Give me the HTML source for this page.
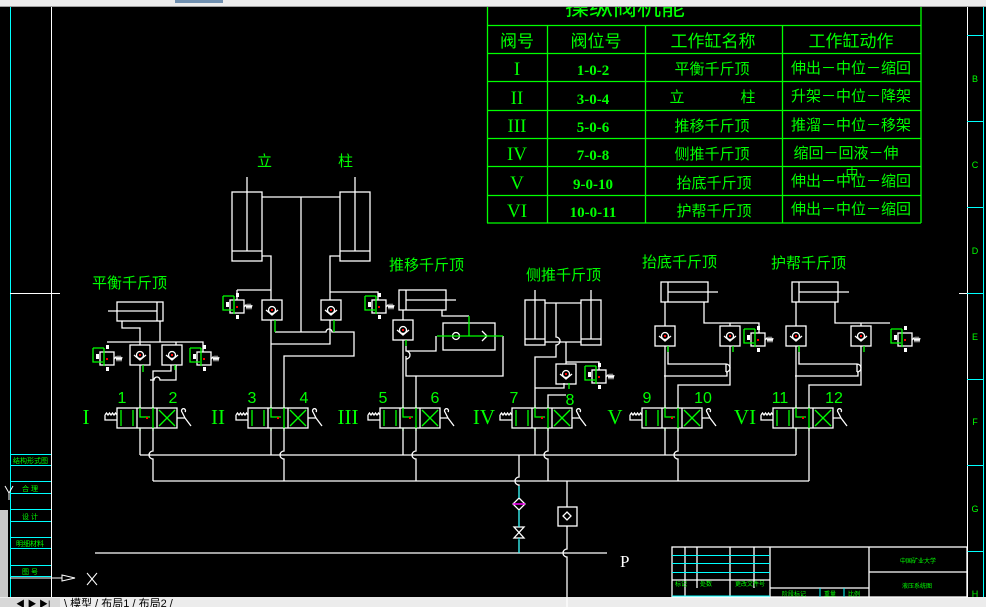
<!DOCTYPE html>
<html><head><meta charset="utf-8"><style>
html,body{margin:0;padding:0;background:#000;width:986px;height:607px;overflow:hidden}
svg{display:block}
text{font-family:"Liberation Sans","Noto Sans CJK SC",sans-serif}
.cj, .cj text{font-family:"Liberation Sans","WenQuanYi Zen Hei","Noto Sans CJK SC",sans-serif}
.se, .se text{font-family:"Liberation Serif","Noto Serif CJK SC",serif}
</style></head><body>
<svg width="986" height="607" viewBox="0 0 986 607" xmlns="http://www.w3.org/2000/svg">
<defs>
 <g id="dv" fill="none" stroke-width="1.3">
  <rect x="0" y="0" width="60" height="20" stroke="#fff"/>
  <line x1="20" y1="0" x2="20" y2="20" stroke="#fff"/>
  <line x1="40" y1="0" x2="40" y2="20" stroke="#fff"/>
  <g stroke="#0f0">
   <line x1="4" y1="2" x2="4" y2="18"/><line x1="16" y1="2" x2="16" y2="18"/>
   <path d="M23,-3 V9 H33"/><line x1="36" y1="-3" x2="36" y2="23"/><line x1="23" y1="20" x2="23" y2="23"/>
   <path d="M42,2 L58,18 M58,2 L42,18"/>
  </g>
  <rect x="29" y="9" width="2" height="2" fill="#f00" stroke="none"/>
  <path d="M-12,7 V12 H0 M-12,7 l1.5,-2 1.5,2 1.5,-2 1.5,2 1.5,-2 1.5,2 1.5,-2 1.5,2" stroke="#fff"/>
  <path d="M60,10 H68 L74,18 M68,10 L65,4 M65,4 a2,2 0 1 1 3,0" stroke="#fff"/>
 </g>
 <g id="cv" fill="none" stroke="#fff" stroke-width="1.3">
  <rect x="0" y="0" width="20" height="20"/>
  <circle cx="10" cy="10" r="3.5"/>
  <path d="M4,10 L10,15 L16,10"/>
  <rect x="9" y="9" width="2" height="2" fill="#f00" stroke="none"/>
 </g>
 <g id="rv" fill="none" stroke-width="1.3">
  <rect x="0" y="0" width="14" height="13" stroke="#fff"/>
  <path d="M-7,-4 H4 M-7,-4 V10 H3 M4,-4 V14" stroke="#0f0"/>
  <rect x="-4" y="2" width="3" height="5" fill="#fff" stroke="none"/>
  <rect x="6" y="-7" width="3" height="4" fill="#fff" stroke="none"/>
  <rect x="6" y="15" width="3" height="4" fill="#fff" stroke="none"/>
  <path d="M14,7 l2,-2 1,3 1,-3 1,3 1,-3 1,3 1,-3" stroke="#fff"/>
  <rect x="6" y="6" width="2" height="2" fill="#f00" stroke="none"/>
 </g>
</defs>

<rect x="0" y="0" width="986" height="6" fill="#ececec"/>
<line x1="0" y1="6.5" x2="986" y2="6.5" stroke="#a0a0a0"/>
<rect x="175" y="0" width="48" height="3" fill="#7090b0"/>
<rect x="0" y="597" width="986" height="10" fill="#ececec"/>
<rect x="0" y="598" width="60" height="9" fill="#d8d8d8"/>
<text x="16" y="607" font-size="9" fill="#000">◀ ▶ ▶|</text>
<text x="64" y="607" font-size="11" class="cj" fill="#000">\ 模型 / 布局1 / 布局2 /</text>
<rect x="0" y="510" width="8" height="87" fill="#c8c8c8"/>

<line x1="10.5" y1="7" x2="10.5" y2="597" stroke="#0ff"/>
<line x1="51.5" y1="7" x2="51.5" y2="597" stroke="#fff"/>
<line x1="10" y1="293.5" x2="60" y2="293.5" stroke="#fff"/>
<g stroke="#0ff">
 <line x1="10" y1="454.5" x2="51" y2="454.5"/><line x1="10" y1="465.5" x2="51" y2="465.5"/>
 <line x1="10" y1="481.5" x2="51" y2="481.5"/><line x1="10" y1="493.5" x2="51" y2="493.5"/>
 <line x1="10" y1="509.5" x2="51" y2="509.5"/><line x1="10" y1="521.5" x2="51" y2="521.5"/>
 <line x1="10" y1="537.5" x2="51" y2="537.5"/><line x1="10" y1="548.5" x2="51" y2="548.5"/>
 <line x1="10" y1="565.5" x2="51" y2="565.5"/><line x1="10" y1="576.5" x2="51" y2="576.5"/>
</g>
<g fill="#0f0" font-size="7" class="cj">
 <text x="13" y="463">结构形式图</text><text x="22" y="491">合 理</text>
 <text x="22" y="519">设 计</text><text x="16" y="546">明细材料</text><text x="22" y="574">图 号</text>
</g>
<path d="M5,486 L9,493 L13,486 M9,493 V500" stroke="#fff" fill="none"/>
<path d="M10,578 H62 M62,575 L75,578 L62,581 Z" stroke="#fff" fill="none"/>
<path d="M87,573 L97,585 M97,573 L87,585" stroke="#fff"/>

<line x1="967.5" y1="7" x2="967.5" y2="597" stroke="#fff"/>
<line x1="983.5" y1="7" x2="983.5" y2="597" stroke="#0ff"/>
<line x1="959" y1="293.5" x2="967" y2="293.5" stroke="#fff"/>
<g stroke="#0ff"><line x1="967" y1="35.5" x2="983" y2="35.5"/><line x1="967" y1="121.5" x2="983" y2="121.5"/><line x1="967" y1="207.5" x2="983" y2="207.5"/><line x1="967" y1="293.5" x2="983" y2="293.5"/><line x1="967" y1="379.5" x2="983" y2="379.5"/><line x1="967" y1="465.5" x2="983" y2="465.5"/><line x1="967" y1="551.5" x2="983" y2="551.5"/></g>
<g fill="#0f0" font-size="9" text-anchor="middle"><text x="975" y="82">B</text><text x="975" y="168">C</text><text x="975" y="254">D</text><text x="975" y="340">E</text><text x="975" y="425">F</text><text x="975" y="512">G</text><text x="975" y="597">H</text></g>

<g stroke="#0f0" stroke-width="1.3" fill="none">
 <line x1="487.5" y1="7" x2="487.5" y2="223"/><line x1="921" y1="7" x2="921" y2="223"/>
 <line x1="487" y1="25.5" x2="921" y2="25.5"/><line x1="487" y1="53.5" x2="921" y2="53.5"/>
 <line x1="487" y1="81.5" x2="921" y2="81.5"/><line x1="487" y1="110.5" x2="921" y2="110.5"/>
 <line x1="487" y1="138.5" x2="921" y2="138.5"/><line x1="487" y1="166.5" x2="921" y2="166.5"/>
 <line x1="487" y1="195.5" x2="921" y2="195.5"/><line x1="487" y1="223" x2="921" y2="223"/>
 <line x1="547.5" y1="25" x2="547.5" y2="223"/><line x1="645.5" y1="25" x2="645.5" y2="223"/><line x1="782.5" y1="25" x2="782.5" y2="223"/>
</g>
<text x="625" y="15" font-size="24" fill="#0f0" class="cj" text-anchor="middle">操纵阀机能</text>
<rect x="487" y="0" width="434" height="7" fill="#ececec"/>
<line x1="487" y1="6.5" x2="921" y2="6.5" stroke="#a0a0a0"/>
<g fill="#0f0" font-size="17" class="cj" text-anchor="middle">
 <text x="517" y="47">阀号</text><text x="596" y="47">阀位号</text><text x="713" y="47">工作缸名称</text><text x="851" y="47">工作缸动作</text>
</g>
<g fill="#0f0" font-size="19" class="se" text-anchor="middle">
 <text x="517" y="75">I</text><text x="517" y="104">II</text><text x="517" y="132">III</text><text x="517" y="160">IV</text><text x="517" y="189">V</text><text x="517" y="217">VI</text>
</g>
<g fill="#0f0" font-size="15" font-weight="bold" class="se" text-anchor="middle">
 <text x="593" y="75">1-0-2</text><text x="593" y="104">3-0-4</text><text x="593" y="132">5-0-6</text><text x="593" y="160">7-0-8</text><text x="593" y="189">9-0-10</text><text x="593" y="217">10-0-11</text>
</g>
<g fill="#0f0" font-size="15" class="cj" text-anchor="middle">
 <text x="712" y="74">平衡千斤顶</text><text x="677" y="102">立</text><text x="748" y="102">柱</text><text x="712" y="131">推移千斤顶</text><text x="712" y="159">侧推千斤顶</text><text x="714" y="188">抬底千斤顶</text><text x="714" y="216">护帮千斤顶</text>
 <text x="851" y="73">伸出－中位－缩回</text><text x="851" y="101">升架－中位－降架</text><text x="851" y="130">推溜－中位－移架</text><text x="846" y="158">缩回－回液－伸</text><text x="851" y="186">伸出－中位－缩回</text><text x="851" y="214">伸出－中位－缩回</text>
 <text x="852" y="178" font-size="13">中</text>
</g>

<g fill="#0f0" font-size="15" class="cj">
 <text x="92" y="288">平衡千斤顶</text><text x="257" y="166">立</text><text x="338" y="166">柱</text>
 <text x="389" y="270">推移千斤顶</text><text x="526" y="280">侧推千斤顶</text>
 <text x="642" y="267">抬底千斤顶</text><text x="771" y="268">护帮千斤顶</text>
</g>
<g fill="#0f0" font-size="16" text-anchor="middle">
 <text x="122" y="403">1</text><text x="173" y="403">2</text><text x="252" y="403">3</text><text x="304" y="403">4</text>
 <text x="383" y="403">5</text><text x="435" y="403">6</text><text x="514" y="403">7</text><text x="570" y="405">8</text>
 <text x="647" y="403">9</text><text x="703" y="403">10</text><text x="780" y="403">11</text><text x="834" y="403">12</text>
</g>
<g fill="#0f0" font-size="21" class="se" text-anchor="middle">
 <text x="86" y="424">I</text><text x="218" y="424">II</text><text x="348" y="424">III</text><text x="484" y="424">IV</text><text x="615" y="424">V</text><text x="745" y="424">VI</text>
</g>

<use href="#dv" x="117" y="408"/><use href="#dv" x="248" y="408"/><use href="#dv" x="380" y="408"/>
<use href="#dv" x="512" y="408"/><use href="#dv" x="642" y="408"/><use href="#dv" x="773" y="408"/>

<g stroke="#fff" stroke-width="1.3" fill="none">
 <path d="M140,455 H796"/>
 <path d="M153,481 H809"/>
 <path d="M140,428 V455"/><path d="M271,428 V455"/><path d="M403,428 V455"/><path d="M535,428 V455"/><path d="M665,428 V455"/><path d="M796,428 V455"/>
 <path d="M153,428 V451 a4,4 0 0 0 0,8 V481"/>
 <path d="M284,428 V451 a4,4 0 0 0 0,8 V481"/>
 <path d="M416,428 V451 a4,4 0 0 0 0,8 V481"/>
 <path d="M548,428 V451 a4,4 0 0 0 0,8 V481"/>
 <path d="M678,428 V451 a4,4 0 0 0 0,8 V481"/>
 <path d="M809,428 V481"/>
 <path d="M519,455 V477 a4,4 0 0 0 0,8 V498"/>
 <path d="M519,510 V527 M519,540 V553"/>
 <path d="M567,481 V507 M567,526 V549 a4,4 0 0 0 0,8 V607"/>
 <path d="M95,553 H607"/>
 <rect x="558" y="507" width="19" height="19"/>
 <path d="M567,512 l4,4 -4,4 -4,-4 z"/>
 <path d="M519,498 l6,6 -6,6 -6,-6 z"/>
 <path d="M514,527 h10 l-10,11 h10 z"/>

 <rect x="117" y="302" width="46" height="19"/><line x1="157" y1="302" x2="157" y2="321"/><line x1="108" y1="311" x2="157" y2="311"/>
 <path d="M122,321 V328 H140 V345"/>
 <path d="M160,321 V342 H176 V345 M107,342 H203 V352"/>
 <path d="M140,365 V408"/>
 <path d="M153,408 V371 H171 V365 M150,380 h4 a3,3 0 0 1 6,0 h16 V365"/>
 <rect x="232" y="192" width="30" height="69"/><line x1="232" y1="251" x2="262" y2="251"/><line x1="247" y1="177" x2="247" y2="251"/>
 <rect x="340" y="192" width="30" height="69"/><line x1="340" y1="251" x2="370" y2="251"/><line x1="355" y1="177" x2="355" y2="251"/>
 <path d="M262,197 H340 M301,197 V332"/>
 <path d="M262,256 H271 V300 M340,256 H330 V300"/>
 <path d="M237,290 H271 M330,292 H378 V300 M237,290 V300"/>
 <path d="M271,320 V408"/>
 <path d="M275,332 H326 a3,3 0 0 1 6,0 H354 V356 H284 V408"/>
 <path d="M271,344 H330 V320"/>
 <rect x="399" y="290" width="47" height="20"/><line x1="406" y1="290" x2="406" y2="310"/><line x1="406" y1="300" x2="456" y2="300"/>
 <path d="M403,310 V320 M442,310 V316 H469"/>
 <rect x="443" y="323" width="52" height="27"/>
 <path d="M403,340 V408"/>
 <path d="M406,346 V351 a4,4 0 0 1 0,8 V356 M406,351 H436 V336 M406,357 V376 H503 V336"/>
 <path d="M416,376 V408"/>
 <circle cx="456" cy="336" r="3.5"/><path d="M482,331 l5,5 -5,5"/>
 <rect x="525" y="300" width="20" height="45"/><line x1="525" y1="339" x2="545" y2="339"/><line x1="535" y1="290" x2="535" y2="339"/>
 <rect x="581" y="300" width="20" height="45"/><line x1="581" y1="339" x2="601" y2="339"/><line x1="591" y1="290" x2="591" y2="339"/>
 <path d="M545,303 H581 M545,342 H581 M556,303 V337 a4,4 0 0 1 0,8 V357 H535 V408"/>
 <path d="M566,342 V364 M566,362 H599 V370"/>
 <path d="M535,388 H564 V383 M548,408 V395 H566"/>
 <rect x="661" y="282" width="47" height="20"/><line x1="668" y1="282" x2="668" y2="302"/><line x1="668" y1="292" x2="718" y2="292"/>
 <path d="M665,302 V326 M665,346 V408"/>
 <path d="M704,302 V323 H759 V333 M730,323 V326"/>
 <path d="M668,346 V364 H726 a4,4 0 0 1 0,8 M726,364 V372"/>
 <path d="M730,346 V385 H678 V408 M664,376 H727 V372"/>
 <rect x="792" y="282" width="46" height="20"/><line x1="799" y1="282" x2="799" y2="302"/><line x1="799" y1="292" x2="849" y2="292"/>
 <path d="M796,302 V326 M796,346 V408"/>
 <path d="M835,302 V323 H890 M861,323 V326"/>
 <path d="M799,346 V364 H857 a4,4 0 0 1 0,8 M857,364 V372"/>
 <path d="M861,346 V385 H809 V408 M795,376 H858 V372"/>
 <rect x="672" y="547" width="295" height="50"/>
 <path d="M685,547 V597 M697,547 V588 M730,547 V597 M754,547 V588 M770,547 V597 M869,547 V597 M672,580 H770 M770,588 H869 M869,572 H967"/>
</g>
<g stroke="#0ff"><path d="M672,555.5 H770 M672,563.5 H770 M672,572.5 H770 M672,596 H770 M820,588 V597 M844,588 V597"/></g>
<path d="M513,504 h12" stroke="#f0f" stroke-width="1.5"/>
<path d="M519,486 V498 M519,510 V527 M519,538 V553" stroke="#0ff"/>
<g fill="#0f0" font-size="6" class="cj"><text x="900" y="563">中国矿业大学</text><text x="902" y="588">液压系统图</text><text x="675" y="586">标记</text><text x="700" y="586">处数</text><text x="735" y="586">更改文件号</text><text x="782" y="596">阶段标记</text><text x="824" y="596">重量</text><text x="848" y="596">比例</text></g>
<text x="620" y="567" font-size="17" fill="#fff" class="se">P</text>

<use href="#cv" x="130" y="345"/><use href="#cv" x="162" y="345"/>
<use href="#cv" x="262" y="300"/><use href="#cv" x="321" y="300"/>
<use href="#cv" x="393" y="320"/>
<use href="#cv" x="556" y="364"/>
<use href="#cv" x="655" y="326"/><use href="#cv" x="720" y="326"/>
<use href="#cv" x="786" y="326"/><use href="#cv" x="851" y="326"/>
<use href="#rv" x="100" y="352"/><use href="#rv" x="197" y="352"/>
<use href="#rv" x="230" y="300"/><use href="#rv" x="372" y="300"/>
<use href="#rv" x="592" y="370"/>
<use href="#rv" x="751" y="333"/><use href="#rv" x="898" y="333"/>
<g stroke="#0f0" stroke-width="1.3">
 <path d="M143,365 V372 M175,365 V370 M275,320 V332 M334,320 V332 M406,340 V346 M469,316 V336 M437,336 H503 M569,383 V389 M668,346 V352 M733,346 V352 M799,346 V352 M864,346 V352"/>
</g>
</svg>
</body></html>
